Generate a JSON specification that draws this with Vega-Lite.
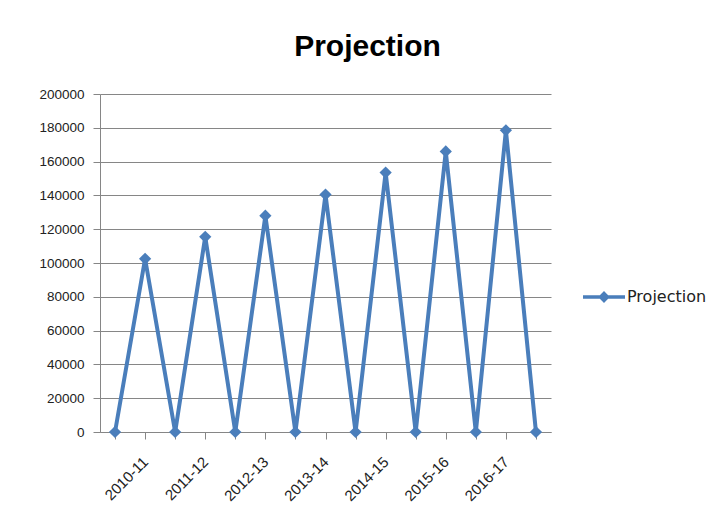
{
  "$schema": "https://vega.github.io/schema/vega-lite/v6.json",
  "autosize": "none",
  "width": 451,
  "height": 338,
  "padding": {"left": 100, "top": 94, "right": 168, "bottom": 87},
  "background": "white",
  "title": {
    "text": "Projection",
    "font": "Liberation Sans",
    "fontSize": 30,
    "fontWeight": "bold",
    "color": "#000000",
    "anchor": "middle",
    "frame": "group",
    "dx": 42,
    "offset": 25
  },
  "data": {
    "values": [
      {"period": "z0", "value": 0, "series": "Projection"},
      {"period": "2010-11", "value": 102500, "series": "Projection"},
      {"period": "z1", "value": 0, "series": "Projection"},
      {"period": "2011-12", "value": 115500, "series": "Projection"},
      {"period": "z2", "value": 0, "series": "Projection"},
      {"period": "2012-13", "value": 128000, "series": "Projection"},
      {"period": "z3", "value": 0, "series": "Projection"},
      {"period": "2013-14", "value": 140500, "series": "Projection"},
      {"period": "z4", "value": 0, "series": "Projection"},
      {"period": "2014-15", "value": 153500, "series": "Projection"},
      {"period": "z5", "value": 0, "series": "Projection"},
      {"period": "2015-16", "value": 166000, "series": "Projection"},
      {"period": "z6", "value": 0, "series": "Projection"},
      {"period": "2016-17", "value": 178500, "series": "Projection"},
      {"period": "z7", "value": 0, "series": "Projection"}
    ]
  },
  "mark": {
    "type": "line",
    "strokeWidth": 4,
    "point": {"shape": "diamond", "size": 150, "filled": true, "opacity": 1}
  },
  "encoding": {
    "x": {
      "field": "period",
      "type": "ordinal",
      "sort": null,
      "title": null,
      "scale": {"paddingInner": 0, "paddingOuter": 0},
      "axis": {
        "labelExpr": "indexof(datum.value, 'z') == 0 ? '' : datum.value",
        "labelAngle": -45,
        "labelAlign": "right",
        "labelBaseline": "middle",
        "labelFont": "Liberation Sans",
        "labelFontSize": 15,
        "labelColor": "#222222",
        "labelPadding": 20,
        "bandPosition": 0,
        "domainColor": "#868686",
        "domainWidth": 1,
        "tickColor": "#868686",
        "tickSize": 7,
        "grid": false
      }
    },
    "y": {
      "field": "value",
      "type": "quantitative",
      "title": null,
      "scale": {"domain": [0, 200000], "nice": false},
      "axis": {
        "values": [0, 20000, 40000, 60000, 80000, 100000, 120000, 140000, 160000, 180000, 200000],
        "format": "d",
        "labelFont": "Liberation Sans",
        "labelFontSize": 13.5,
        "labelColor": "#222222",
        "labelPadding": 9,
        "domainColor": "#868686",
        "domainWidth": 1,
        "tickColor": "#868686",
        "tickSize": 7,
        "gridColor": "#868686",
        "gridWidth": 1
      }
    },
    "color": {
      "field": "series",
      "type": "nominal",
      "scale": {"range": ["#4A7EBB"]},
      "legend": {
        "title": null,
        "orient": "none",
        "legendX": 483,
        "legendY": 182,
        "symbolType": "M-1,-0.08H1V0.08H-1Z M0,-0.28L0.28,0L0,0.28L-0.28,0Z",
        "symbolSize": 1764,
        "symbolFillColor": "#4A7EBB",
        "symbolStrokeWidth": 0,
        "labelOffset": 2,
        "labelFont": "DejaVu Sans",
        "labelFontSize": 16,
        "labelColor": "#222222"
      }
    }
  },
  "config": {
    "view": {"stroke": null}
  }
}
